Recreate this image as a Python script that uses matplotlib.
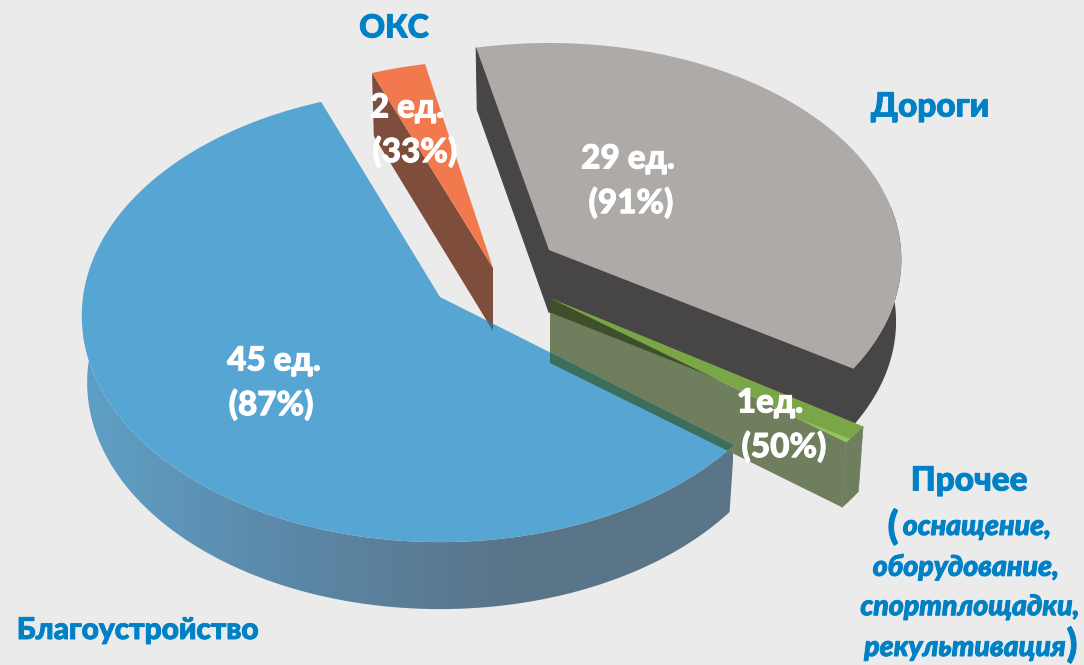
import numpy as np
import matplotlib
matplotlib.use("Agg")
import matplotlib.pyplot as plt
import matplotlib.patheffects as pe
from matplotlib.colors import LinearSegmentedColormap
from matplotlib.patches import Polygon

# data, counterclockwise from the start angle
categories = ["Благоустройство", "Прочее", "Дороги", "ОКС"]
counts = [45, 1, 29, 2]
shares = [87, 50, 91, 33]
count_gaps = [" ", "", " ", " "]

BG = "#ebebeb"
LABEL_BLUE = "#0081c6"
START = 111.0
FONT = "Lato"

plt.rcParams["font.family"] = [FONT, "DejaVu Sans"]

# where each exploded slice sits in the picture
apex = {"blue": (440, 297), "green": (550, 298), "road": (549, 250), "oks": (493, 268)}
shape = {"blue": (357, 225, 0.082), "green": (361, 220, 0.0775),
         "road": (352, 216, 0.0434), "oks": (362, 224, 0.0775)}
depth = {"blue": 67, "green": 65, "road": 62, "oks": 63}


def point(name, t, dy=0, narrow=1.0):
    a, b, k = shape[name]
    cx, cy = apex[name]
    t = np.radians(t)
    d = 1 + k * np.sin(t)
    return np.column_stack([cx + narrow * a * np.cos(t) / d,
                            cy + dy - b * np.sin(t) / d])


def arc(name, t0, t1, dy=0, narrow=1.0):
    return point(name, np.linspace(t0, t1, 200), dy, narrow)


def top_face(name, t0, t1):
    return np.vstack([[apex[name]], arc(name, t0, t1)])


def side_wall(name, t0, t1, narrow=0.985):
    return np.vstack([arc(name, t0, t1), arc(name, t1, t0, depth[name], narrow)])


def inner_wall(name, t, narrow=0.985):
    cx, cy = apex[name]
    return np.vstack([[(cx, cy)], point(name, np.array([t])),
                      point(name, np.array([t]), depth[name], narrow),
                      [(cx, cy + depth[name])]])


edges = START + np.concatenate([[0], np.cumsum(counts)]) / sum(counts) * 360
blue_t = edges[0], edges[1]
green_t = edges[1], edges[2]
road_t = edges[2] + 1.5, edges[3] + 0.8
oks_t = edges[3], edges[4]

fig = plt.figure(figsize=(10.84, 6.65), dpi=100, facecolor=BG)
ax = fig.add_axes([0, 0, 1, 1])
ax.set_facecolor(BG)
ax.axis("off")

# roads, back walls first
road_wall = "#474545"
road_parts = [inner_wall("road", road_t[0]), inner_wall("road", road_t[1]),
              side_wall("road", road_t[0], road_t[0] + 44)]
ax.add_patch(Polygon(road_parts[2], fc=road_wall, ec="none"))
for pts in road_parts[:2]:
    ax.add_patch(Polygon(pts, fc=road_wall, ec=road_wall, lw=0.8))
ax.add_patch(Polygon(top_face("road", *road_t), fc="#aeaaa8", ec="none"))

# blue rim with its shading
rim = Polygon(side_wall("blue", *blue_t), fc="none", ec="none")
ax.add_patch(rim)
shade = LinearSegmentedColormap.from_list("rim", ["#5f9fc6", "#5b87a6", "#5a7488", "#5a7488"])
im = ax.imshow(np.linspace(0, 1, 256)[None, :], extent=(83, 733, 620, 300),
               cmap=shade, aspect="auto", zorder=1.5)
im.set_clip_path(rim)

# green slice walls
olive = "#6f7f5e"
low_in = inner_wall("green", green_t[0])
outer_g = side_wall("green", *green_t)
ax.add_patch(Polygon(low_in, fc=olive, ec="none", zorder=2))
ax.add_patch(Polygon(outer_g, fc=olive, ec=olive, lw=0.5, zorder=2))
road_clip = Polygon(road_parts[0], transform=ax.transData, fc="none", ec="none")
ax.add_patch(road_clip)
dark = Polygon(low_in, fc="#3f4f2a", ec="none", zorder=2.1)
ax.add_patch(dark)
dark.set_clip_path(road_clip)

# orange slice
oks_wall = inner_wall("oks", oks_t[1])
ax.add_patch(Polygon(oks_wall, fc="#7f4d3c", ec="none", zorder=2))
ax.add_patch(Polygon(top_face("oks", *oks_t), fc="#f1794d", ec="none", zorder=2.2))

# blue top, then the walls showing through it
blue_top = Polygon(top_face("blue", *blue_t), fc="#57a5d3", ec="none", zorder=3)
ax.add_patch(blue_top)
for pts, col in [(low_in, "#3d6d5c"), (oks_wall, "#3a6a86")]:
    over = Polygon(pts, fc=col, ec="none", zorder=3.1)
    ax.add_patch(over)
    over.set_clip_path(blue_top)

# green top with the light sliver at its lower edge
ax.add_patch(Polygon(top_face("green", *green_t), fc="#7aa648", ec="none", zorder=3.2))
g0 = np.array(apex["green"])
g1 = point("green", np.array([green_t[0]]))[0]
ax.add_patch(Polygon([g0 + 0.83 * (g1 - g0), g1, point("green", np.array([green_t[0] + 1.0]))[0]],
                     fc="#93c463", ec="none", zorder=3.3))

ax.set_xlim(0, 1084)
ax.set_ylim(665, 0)


def heavy(color):
    return [pe.withStroke(linewidth=0.7, foreground=color)]


def value_label(i, x0, y0, x1, y1):
    opts = dict(color="white", fontsize=24, fontweight=900, ha="center", va="center", zorder=5,
                path_effects=heavy("white"))
    ax.text(x0, y0, f"{counts[i]}{count_gaps[i]}ед.", **opts)
    ax.text(x1, y1, f"({shares[i]}%)", **opts)


value_label(0, 274, 361, 271, 405)
value_label(1, 770, 403, 784, 447)
value_label(2, 628, 159, 631, 203)
value_label(3, 407, 108, 415, 152)

name_opts = dict(color=LABEL_BLUE, fontweight=900, va="center", ha="center", zorder=5,
                 path_effects=heavy(LABEL_BLUE))
ax.text(138, 630, categories[0], fontsize=21.5, **name_opts)
ax.text(394, 28, categories[3], fontsize=23, **name_opts)
ax.text(930, 107, categories[2], fontsize=24, **name_opts)
ax.text(969, 481, categories[1], fontsize=24, **name_opts)

note_lines = ["оснащение,", "оборудование,", "спортплощадки,", "рекультивация"]
note_pos = [(977, 527), (966, 567), (970, 607), (965, 648)]
for line, (x, y) in zip(note_lines, note_pos):
    ax.text(x, y, line, fontsize=20.5, fontstyle="italic", **name_opts)
ax.text(893, 527, "(", fontsize=28, **name_opts)
ax.text(1072, 645, ")", fontsize=28, **name_opts)

fig.savefig("out.png", dpi=100, facecolor=BG)
